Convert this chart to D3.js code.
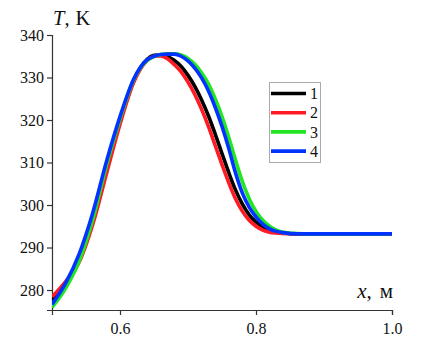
<!DOCTYPE html>
<html><head><meta charset="utf-8">
<script src="https://cdn.jsdelivr.net/npm/d3@7"></script>
<style>body{margin:0;background:#fff}svg{display:block}</style>
</head><body>
<script>
const xValues = [0.50,0.52,0.54,0.56,0.58,0.60,0.62,0.64,0.65,0.66,0.67,0.68,0.69,0.70,0.71,0.72,0.73,0.74,0.75,0.76,0.77,0.78,0.79,0.80,0.81,0.82,0.83,0.84,0.86,0.88,0.90,1.00];
const series1 = [277.8,281.6,287.4,296.0,308.0,319.6,329.2,334.3,335.2,335.3,334.9,334.0,332.6,330.5,327.9,324.7,321.0,316.7,312.1,307.6,303.5,300.2,297.7,296.0,294.8,294.0,293.6,293.4,293.2,293.2,293.2,293.2];
const series2 = [278.4,282.0,286.6,295.5,307.3,319.0,328.8,334.0,335.0,335.1,334.4,333.0,331.3,328.9,326.0,322.5,318.5,314.0,309.5,305.2,301.4,298.5,296.4,295.0,294.1,293.6,293.4,293.3,293.2,293.2,293.2,293.2];
const series3 = [275.9,280.4,286.8,296.6,309.2,320.2,329.4,334.0,334.9,335.4,335.6,335.6,335.3,334.5,333.1,331.1,328.5,325.0,320.8,315.9,310.5,305.5,301.5,298.5,296.4,295.0,294.1,293.6,293.3,293.2,293.2,293.2];
const series4 = [276.6,281.6,288.5,298.2,310.2,320.8,329.6,334.2,335.0,335.4,335.5,335.5,335.0,333.9,332.2,329.9,326.9,323.0,318.5,313.3,307.5,302.8,299.5,297.2,295.5,294.4,293.8,293.5,293.2,293.2,293.2,293.2];
const seriesNames = ["1","2","3","4"];
const seriesColors = ["#000000","#ff1a24","#22e622","#0033ff"];
const yTicks = [280,290,300,310,320,330,340];
const xTicks = [0.6,0.8,1.0];

const W = 438, H = 355;
const svg = d3.select("body").append("svg").attr("width", W).attr("height", H);
const x = d3.scaleLinear().domain([0.5, 1.0]).range([52, 392]);
const y = d3.scaleLinear().domain([275.3, 340]).range([310, 35]);
const font = "Liberation Serif";

const xAxis = svg.append("g").attr("transform", "translate(0,310)")
  .call(d3.axisBottom(x).tickValues(xTicks).tickFormat(d3.format(".1f")).tickSizeOuter(0).tickSize(5));
const yAxis = svg.append("g").attr("transform", "translate(52,0)")
  .call(d3.axisLeft(y).tickValues(yTicks).tickSizeOuter(0).tickSize(5));
[xAxis, yAxis].forEach(g => {
  g.attr("font-family", font).attr("font-size", 16);
  g.selectAll("path").attr("stroke", "#333").attr("stroke-width", 1.2);
  g.selectAll("line").attr("stroke", "#333").attr("stroke-width", 1.2);
  g.selectAll("text").style("font-family", font).attr("font-size", 16).attr("fill", "#111");
});
xAxis.selectAll("text").attr("dy", "1.0em");
yAxis.selectAll("text").attr("dy", "0.33em").attr("x", -8);

const allSeries = [series1, series2, series3, series4];
const line = d3.line().x((d, i) => x(xValues[i])).y(d => y(d)).curve(d3.curveMonotoneX);
svg.append("defs").append("clipPath").attr("id", "clip")
  .append("rect").attr("x", 52).attr("y", 30).attr("width", 345).attr("height", 280);
const plot = svg.append("g").attr("clip-path", "url(#clip)");
allSeries.forEach((s, k) => {
  plot.append("path").datum(s).attr("d", line).attr("fill", "none")
    .attr("stroke", seriesColors[k]).attr("stroke-width", 3.6).attr("stroke-linejoin", "round");
});

// Axis titles
const yt = svg.append("text").attr("x", 53).attr("y", 25).style("font-family", font).attr("font-size", 20.5).attr("fill", "#111");
yt.append("tspan").attr("font-style", "italic").text("T");
yt.append("tspan").text(",");
yt.append("tspan").attr("dx", 6).text("K");
const xt = svg.append("text").attr("x", 393).attr("y", 298).attr("text-anchor", "end").style("font-family", font).attr("font-size", 21).attr("fill", "#111");
xt.append("tspan").attr("font-style", "italic").text("x");
xt.append("tspan").text(",");
xt.append("tspan").attr("dx", 8).text("м");

// Legend
const lg = svg.append("g");
lg.append("rect").attr("x", 269.5).attr("y", 82.5).attr("width", 51).attr("height", 80)
  .attr("fill", "#fff").attr("stroke", "#aaa").attr("stroke-width", 1);
seriesNames.forEach((n, k) => {
  const yy = 93.5 + k * 19.2;
  lg.append("line").attr("x1", 271).attr("x2", 306).attr("y1", yy).attr("y2", yy)
    .attr("stroke", seriesColors[k]).attr("stroke-width", 3.6);
  lg.append("text").attr("x", 310).attr("y", yy).attr("dy", "0.35em")
    .style("font-family", font).attr("font-size", 16).attr("fill", "#111").text(n);
});
</script>
</body></html>
